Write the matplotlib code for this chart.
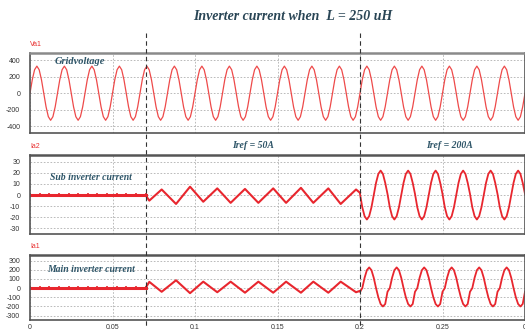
import numpy as np
import matplotlib
matplotlib.use('Agg')
import matplotlib.pyplot as plt
import matplotlib.transforms as mtransforms
from matplotlib.lines import Line2D

plt.rcParams['axes.unicode_minus'] = False
plt.rcParams['font.family'] = ['Liberation Sans', 'DejaVu Sans']

# ---- data ----
f_grid = 60.0
samples_per_cycle = 12
n_cycles = 18

# one cycle of the grid voltage (V), starting at t = 0
grid_cycle = [0, 165, 286, 330, 286, 165, 0, -165, -286, -330, -286, -165]

# before the step (t < 0.07) both currents sit at zero
flat_t = np.linspace(0, 0.07, 13)
flat_v = np.zeros(13)

# Iref = 50A section: turning points of the ripple (time, value)
ripple_t = [0.0700, 0.0723, 0.0798, 0.0885, 0.0970, 0.1050, 0.1135, 0.1216, 0.1303,
            0.1384, 0.1474, 0.1552, 0.1642, 0.1717, 0.1808, 0.1883, 0.1976, 0.2000]
sub_ripple = [0, -5, 5, -8, 7.5, -6, 6, -7, 5.5, -7, 6, -7, 6.5, -7, 6, -8, 5, 2]
main_ripple = [0, 68, -40, 85, -55, 70, -45, 70, -50, 70, -50, 70, -50, 70, -50, 70, -45, -30]

# Iref = 200A section: one cycle of each current, starting at t = 0.2
n_cycles_200 = 6
sub_cycle = [1, -11, -19, -22, -19, -11, 0, 11, 19, 22, 19, 11]
main_cycle = [-40, 0, 112, 195, 225, 195, 112, 0, -100, -173, -200, -173]

step_times = [0.07, 0.2]
x_ticks = [0, 0.05, 0.1, 0.15, 0.2, 0.25, 0.3]
x_ticklabels = ['0', '0.05', '0.1', '0.15', '0.2', '0.25', '0']

# ---- build the time series ----
dt = 1.0 / (f_grid * samples_per_cycle)
grid_t = np.arange(n_cycles * samples_per_cycle + 1) * dt
grid_v = np.append(np.tile(grid_cycle, n_cycles), grid_cycle[0])

hi_t = 0.2 + np.arange(n_cycles_200 * samples_per_cycle + 1) * dt
sub_hi = np.append(np.tile(sub_cycle, n_cycles_200), sub_cycle[0])
main_hi = np.append(np.tile(main_cycle, n_cycles_200), main_cycle[0])

red = '#E8262E'
text_col = '#2E5568'
frame_col = '#555555'

fig = plt.figure(figsize=(5.25, 3.34), dpi=100)
W, H = 525.0, 334.0


def add_panel(top, bottom):
    return fig.add_axes([30 / W, 1 - bottom / H, 1 - 30 / W, (bottom - top) / H])


ax1 = add_panel(53, 133)
ax2 = add_panel(155, 234)
ax3 = add_panel(255, 320)

ax1.plot(grid_t, grid_v, color='#EE4A4A', lw=0.9)

ax2.plot(flat_t, flat_v, color=red, lw=2.2, marker='|', ms=3, mew=1.2)
ax2.plot(ripple_t, sub_ripple, color=red, lw=1.5)
ax2.plot(hi_t, sub_hi, color=red, lw=1.3)

ax3.plot(flat_t, flat_v, color=red, lw=2.2, marker='|', ms=3, mew=1.2)
ax3.plot(ripple_t, main_ripple, color=red, lw=1.5)
ax3.plot(hi_t, main_hi, color=red, lw=1.3)

ax1.set_ylim(-485, 490)
ax1.set_yticks([-400, -200, 0, 200, 400])
ax2.set_ylim(-35, 36)
ax2.set_yticks([-30, -20, -10, 0, 10, 20, 30])
ax3.set_ylim(-347, 360)
ax3.set_yticks([-300, -200, -100, 0, 100, 200, 300])

for ax in (ax1, ax2, ax3):
    ax.set_xlim(0, 0.3)
    ax.set_xticks(x_ticks)
    ax.grid(True, color='#B0B0B0', linestyle=(0, (2, 2)), lw=0.6)
    ax.tick_params(length=0, labelsize=5, labelcolor='#333333', pad=7)
    for s in ax.spines.values():
        s.set_color(frame_col)
        s.set_linewidth(1.2)
    ax.spines['top'].set_linewidth(1.8)
    ax.spines['top'].set_color('#8A8A8A' if ax is ax1 else frame_col)
    ax.set_axisbelow(True)

ax1.tick_params(labelbottom=False)
ax2.tick_params(labelbottom=False)
ax3.set_xticklabels(x_ticklabels)
ax3.tick_params(axis='x', pad=3)

# vertical step markers across all panels
trans = mtransforms.blended_transform_factory(ax3.transData, fig.transFigure)
for t in step_times:
    fig.add_artist(Line2D([t, t], [1 - 33 / H, 1 - 327 / H], transform=trans,
                          color='#333333', lw=0.8, linestyle=(0, (4, 3))))

# channel names
for name, y in [('Va1', 44), ('Ia2', 146), ('Ia1', 246)]:
    fig.text(30 / W, 1 - y / H, name, color='#E83030', fontsize=5, va='center')

serif = dict(family='Liberation Serif', weight='bold', style='italic', color=text_col)
fig.text(293 / W, 1 - 16 / H, 'Inverter current when  L = 250 uH', ha='center',
         va='center', fontsize=10, **dict(serif, color='#2A4656'))
fig.text(80 / W, 1 - 62 / H, 'Gridvoltage', ha='center', va='center', fontsize=7.5, **serif)
fig.text(91 / W, 1 - 177 / H, 'Sub inverter current', ha='center', va='center', fontsize=7, **serif)
fig.text(91 / W, 1 - 270 / H, 'Main inverter current', ha='center', va='center', fontsize=7, **serif)
fig.text(253 / W, 1 - 145 / H, 'Iref = 50A', ha='center', va='center', fontsize=7, **serif)
fig.text(449 / W, 1 - 145 / H, 'Iref = 200A', ha='center', va='center', fontsize=7, **serif)

fig.savefig('out.png', dpi=100)
